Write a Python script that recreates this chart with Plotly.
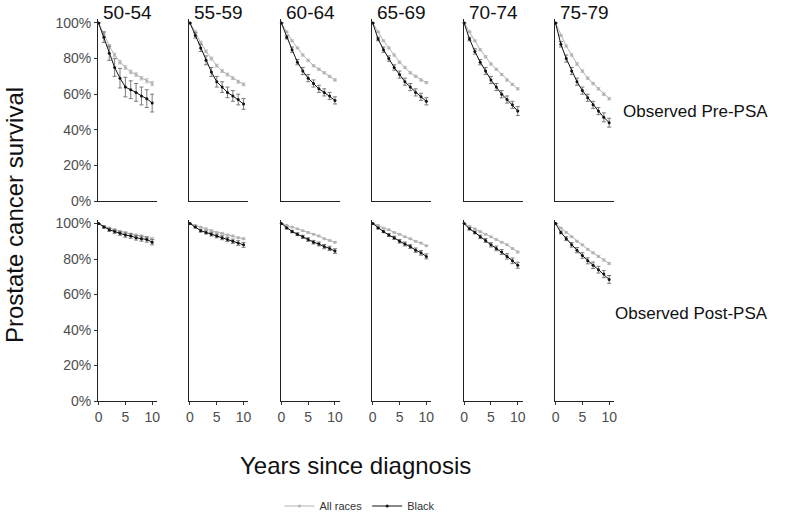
import plotly.graph_objects as go

years = [0, 1, 2, 3, 4, 5, 6, 7, 8, 9, 10]
age_groups = ["50-54", "55-59", "60-64", "65-69", "70-74", "75-79"]
row_labels = ["Observed Pre-PSA", "Observed Post-PSA"]
y_ticks = [0, 20, 40, 60, 80, 100]
y_tick_labels = ["0%", "20%", "40%", "60%", "80%", "100%"]
x_ticks = [0, 5, 10]

# Pre-PSA survival (%), one list per age group
pre_all = [
    [100, 94, 87, 82, 78, 75, 72.5, 71, 69, 67.5, 66],
    [100, 95, 89, 84, 80, 76, 73, 71, 69, 67, 65.5],
    [100, 95, 90, 86, 82, 79, 76, 74, 72, 70, 68],
    [100, 95, 90, 86, 82, 78, 75, 72, 70, 68, 66.5],
    [100, 95, 90, 85, 81, 77, 74, 71, 68, 65.5, 63],
    [100, 93, 87, 82, 77, 73, 69, 66, 63, 60, 57.5],
]
pre_black = [
    [100, 92, 83, 75, 69, 64, 62.5, 61, 59, 57.5, 55],
    [100, 93, 86, 79, 72.5, 67, 64, 61, 59, 57, 54.5],
    [100, 92, 85, 78, 73, 69, 66, 63, 61, 59, 56.5],
    [100, 91, 85, 80, 75, 71, 67, 64, 61, 58.5, 56],
    [100, 91, 84, 78, 73, 68, 64, 60, 57, 54, 50.5],
    [100, 88, 80, 73, 67, 62, 58, 54, 50.5, 47, 44],
]
pre_all_err = [
    [0, 0.7, 0.9, 1, 1, 1, 1, 1, 1, 1.2, 1.2],
    [0, 0.5, 0.7, 0.8, 0.8, 0.8, 0.8, 0.8, 0.8, 0.8, 0.8],
    [0, 0.4, 0.5, 0.5, 0.6, 0.6, 0.6, 0.6, 0.6, 0.6, 0.6],
    [0, 0.4, 0.5, 0.5, 0.6, 0.6, 0.6, 0.6, 0.6, 0.6, 0.6],
    [0, 0.4, 0.5, 0.5, 0.6, 0.6, 0.6, 0.6, 0.6, 0.6, 0.6],
    [0, 0.5, 0.6, 0.6, 0.7, 0.7, 0.7, 0.7, 0.7, 0.7, 0.7],
]
pre_black_err = [
    [0, 3, 4, 5, 5.5, 5.5, 5, 5, 5, 5, 5],
    [0, 1.5, 2, 2.5, 2.5, 3, 3, 3, 3, 3, 3],
    [0, 1, 1.5, 1.5, 2, 2, 2, 2, 2, 2, 2],
    [0, 1, 1.5, 1.5, 1.5, 2, 2, 2, 2, 2, 2],
    [0, 1, 1.5, 1.5, 2, 2, 2, 2, 2, 2, 2.5],
    [0, 1.5, 2, 2, 2, 2, 2, 2, 2, 2.5, 2.5],
]

# Post-PSA survival (%)
post_all = [
    [100, 98.5, 97.5, 96.5, 95.5, 95, 94, 93.5, 93, 92, 91.5],
    [100, 99, 98, 97, 96, 95, 94.5, 93.5, 93, 92, 91.5],
    [100, 99, 98, 97, 96, 95, 94, 93, 91.5, 90.5, 89.5],
    [100, 99, 97.5, 96.5, 95, 94, 92.5, 91.5, 90, 89, 87.5],
    [100, 98.5, 97, 95.5, 94, 92.5, 91, 89.5, 88, 86, 84],
    [100, 97.5, 95, 92.5, 90, 88, 85.5, 83.5, 81.5, 79.5, 77.5],
]
post_black = [
    [100, 98, 96.5, 95.5, 94.5, 93.5, 93, 92, 91.5, 91, 89.5],
    [100, 98, 96, 95, 94, 93, 92, 91, 90, 89, 88],
    [100, 97.5, 95.5, 94, 92.5, 91, 89.5, 88.5, 87, 86, 84.5],
    [100, 97.5, 95.5, 93.5, 92, 90, 88.5, 87, 85, 83.5, 81.5],
    [100, 97, 95, 92.5, 90.5, 88, 86, 84, 81.5, 79, 76.5],
    [100, 95, 91.5, 88, 85, 82, 79, 76.5, 74, 71.5, 68.5],
]
post_all_err = [
    [0, 0.3, 0.4, 0.5, 0.5, 0.5, 0.6, 0.6, 0.6, 0.7, 0.7],
    [0, 0.3, 0.3, 0.4, 0.4, 0.4, 0.5, 0.5, 0.5, 0.5, 0.5],
    [0, 0.2, 0.3, 0.3, 0.3, 0.4, 0.4, 0.4, 0.4, 0.4, 0.4],
    [0, 0.2, 0.3, 0.3, 0.3, 0.4, 0.4, 0.4, 0.4, 0.4, 0.4],
    [0, 0.2, 0.3, 0.3, 0.3, 0.4, 0.4, 0.4, 0.4, 0.4, 0.5],
    [0, 0.3, 0.4, 0.4, 0.5, 0.5, 0.5, 0.5, 0.6, 0.6, 0.6],
]
post_black_err = [
    [0, 0.6, 0.9, 1, 1.1, 1.2, 1.3, 1.3, 1.4, 1.5, 1.5],
    [0, 0.5, 0.8, 0.9, 1, 1, 1.1, 1.2, 1.2, 1.3, 1.4],
    [0, 0.5, 0.7, 0.8, 0.9, 1, 1, 1.1, 1.2, 1.2, 1.3],
    [0, 0.5, 0.7, 0.8, 0.9, 1, 1.1, 1.1, 1.2, 1.3, 1.4],
    [0, 0.6, 0.8, 1, 1.1, 1.2, 1.3, 1.4, 1.5, 1.6, 1.7],
    [0, 0.8, 1.1, 1.3, 1.5, 1.6, 1.7, 1.8, 1.9, 2, 2.2],
]

W, H = 800, 512
FONT = "Liberation Sans, Arial, sans-serif"
GREY = "#b3b3b3"
BLACK = "#111111"


def fx(px):
    return px / W


def fy(py):
    return 1 - py / H


col_left = [98 + 91.4 * i for i in range(6)]
panel_w = 59
rows_px = [(201, 19.4), (401, 220)]  # (bottom px, top px) in window pixels

fig = go.Figure()
layout = {}
rows = [
    (pre_all, pre_all_err, pre_black, pre_black_err),
    (post_all, post_all_err, post_black, post_black_err),
]
for r, (a_vals, a_err, b_vals, b_err) in enumerate(rows):
    for c in range(6):
        idx = r * 6 + c + 1
        xa = "x" if idx == 1 else f"x{idx}"
        ya = "y" if idx == 1 else f"y{idx}"
        show_leg = (idx == 1)
        fig.add_trace(go.Scatter(
            x=years, y=a_vals[c], xaxis=xa, yaxis=ya, mode="lines+markers",
            name="All races", legendgroup="all", showlegend=show_leg,
            line=dict(color=GREY, width=1), marker=dict(color=GREY, size=3),
            error_y=dict(type="data", array=a_err[c], color="#c8c8c8", thickness=1, width=2),
            cliponaxis=False))
        fig.add_trace(go.Scatter(
            x=years, y=b_vals[c], xaxis=xa, yaxis=ya, mode="lines+markers",
            name="Black", legendgroup="black", showlegend=show_leg,
            line=dict(color=BLACK, width=1), marker=dict(color=BLACK, size=3),
            error_y=dict(type="data", array=b_err[c], color="#7a7a7a", thickness=1, width=2),
            cliponaxis=False))
        yb, yt = rows_px[r]
        xkey = "xaxis" if idx == 1 else f"xaxis{idx}"
        ykey = "yaxis" if idx == 1 else f"yaxis{idx}"
        layout[xkey] = dict(
            domain=[fx(col_left[c]), fx(col_left[c] + panel_w)], anchor=ya,
            range=[-0.1, 10.9], automargin=False,
            showgrid=False, zeroline=False, showline=True, linecolor="#222222", linewidth=1,
            tickmode="array", tickvals=x_ticks if r == 1 else [],
            ticks="outside" if r == 1 else "", ticklen=3, tickcolor="#333333",
            showticklabels=(r == 1),
            tickfont=dict(family=FONT, size=14, color="#4d4d4d"))
        layout[ykey] = dict(
            domain=[fy(yb), fy(yt)], anchor=xa, range=[0, 102], automargin=False,
            showgrid=False, zeroline=False, showline=True, linecolor="#222222", linewidth=1,
            tickmode="array",
            tickvals=y_ticks if c == 0 else [], ticktext=y_tick_labels if c == 0 else [],
            ticks="outside" if c == 0 else "", ticklen=3, tickcolor="#333333",
            showticklabels=(c == 0),
            tickfont=dict(family=FONT, size=14, color="#4d4d4d"))

annotations = []
for c, g in enumerate(age_groups):
    annotations.append(dict(
        text=g, x=fx(col_left[c] + panel_w / 2), y=fy(12), xref="paper", yref="paper",
        showarrow=False, xanchor="center", yanchor="middle",
        font=dict(family=FONT, size=19, color="#111111")))
for r, lab in enumerate(row_labels):
    annotations.append(dict(
        text=lab, x=fx(770), y=fy([111, 313][r]), xref="paper", yref="paper",
        showarrow=False, xanchor="right", yanchor="middle",
        font=dict(family=FONT, size=17, color="#111111")))
annotations.append(dict(
    text="Years since diagnosis", x=fx(355), y=fy(465), xref="paper", yref="paper",
    showarrow=False, xanchor="center", yanchor="middle",
    font=dict(family=FONT, size=24, color="#111111")))
annotations.append(dict(
    text="Prostate cancer survival", x=fx(14), y=fy(215), xref="paper", yref="paper",
    showarrow=False, xanchor="center", yanchor="middle", textangle=-90,
    font=dict(family=FONT, size=24, color="#111111")))

fig.update_layout(
    width=W, height=H, margin=dict(l=0, r=0, t=0, b=0, autoexpand=False),
    paper_bgcolor="white", plot_bgcolor="white",
    annotations=annotations,
    legend=dict(orientation="h", x=fx(360), xanchor="center", y=fy(506), yanchor="middle",
                font=dict(family=FONT, size=11, color="#333333"), itemwidth=30,
                bgcolor="rgba(0,0,0,0)"),
    **layout)

# Remove the browser's default 8px body margin so the figure fills the window exactly.
fig.write_html("out.html", config={"displayModeBar": False},
               post_script="document.body.style.margin='0';document.body.style.overflow='hidden';")
